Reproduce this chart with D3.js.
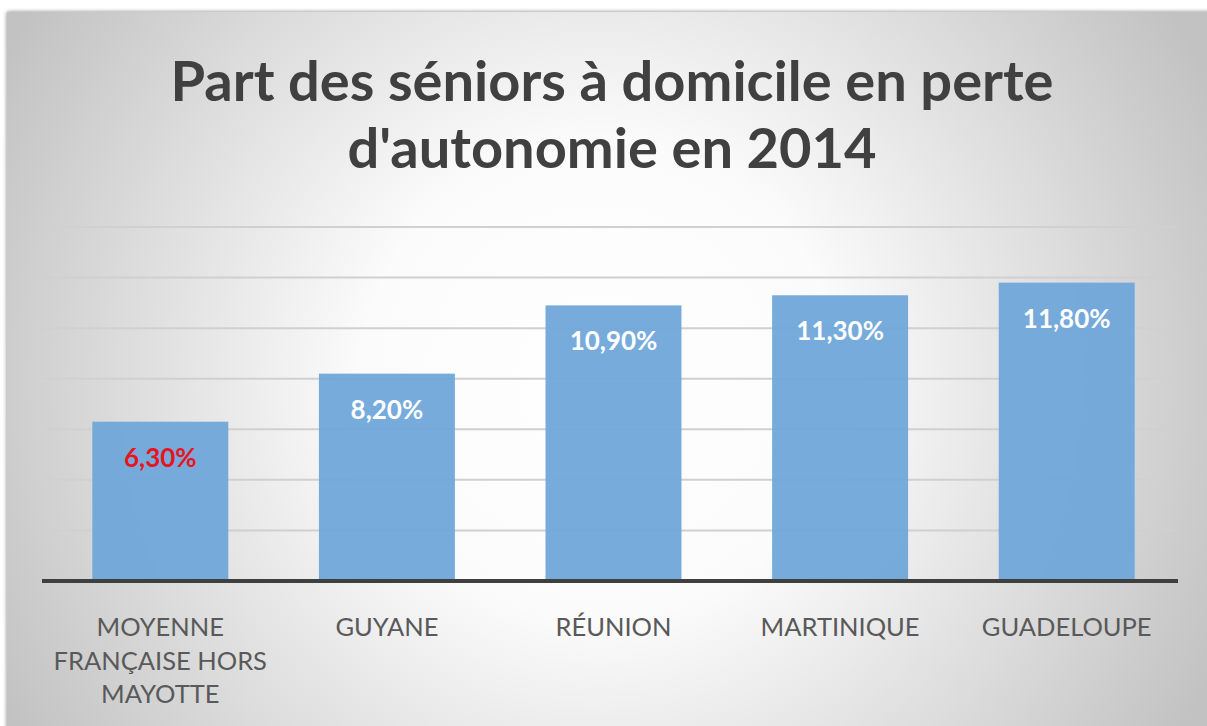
<!DOCTYPE html>
<html>
<head>
<meta charset="utf-8">
<script src="https://cdn.jsdelivr.net/npm/d3@7"></script>
<style>
  body { margin: 0; background: #fff; }
  svg { display: block; }
</style>
</head>
<body>
<div id="chart"></div>
<script>
// data
const categories = ["MOYENNE FRANÇAISE HORS MAYOTTE", "GUYANE", "RÉUNION", "MARTINIQUE", "GUADELOUPE"];
const categoryLines = [["MOYENNE", "FRANÇAISE HORS", "MAYOTTE"], ["GUYANE"], ["RÉUNION"], ["MARTINIQUE"], ["GUADELOUPE"]];
const values = [6.3, 8.2, 10.9, 11.3, 11.8];
const valueLabels = ["6,30%", "8,20%", "10,90%", "11,30%", "11,80%"];
const gridTicks = [0, 2, 4, 6, 8, 10, 12, 14];
const titleLines = ["Part des séniors à domicile en perte", "d'autonomie en 2014"];

const W = 1207, H = 726;
const font = "Lato, 'Open Sans', sans-serif";

const svg = d3.select("#chart").append("svg")
    .attr("width", W)
    .attr("height", H);

// background gradient
const defs = svg.append("defs");
const grad = defs.append("radialGradient")
    .attr("id", "bg")
    .attr("gradientUnits", "userSpaceOnUse")
    .attr("cx", 600).attr("cy", 380).attr("r", 680);
grad.append("stop").attr("offset", "0%").attr("stop-color", "#ffffff");
grad.append("stop").attr("offset", "35%").attr("stop-color", "#fbfbfb");
grad.append("stop").attr("offset", "100%").attr("stop-color", "#c2c2c2");

const shadow = defs.append("filter").attr("id", "sh").attr("x", "-5%").attr("y", "-5%").attr("width", "110%").attr("height", "110%");
shadow.append("feGaussianBlur").attr("in", "SourceAlpha").attr("stdDeviation", 2);
shadow.append("feComponentTransfer").append("feFuncA").attr("type", "linear").attr("slope", 0.5);
const merge = shadow.append("feMerge");
merge.append("feMergeNode");
merge.append("feMergeNode").attr("in", "SourceGraphic");

svg.append("rect")
    .attr("x", 7).attr("y", 12)
    .attr("width", W + 10).attr("height", H + 10)
    .attr("fill", "url(#bg)")
    .attr("filter", "url(#sh)");

// scales
const x = d3.scaleBand()
    .domain(categories)
    .range([47, 1180])
    .paddingInner(0.4)
    .paddingOuter(0.2);

const y = d3.scaleLinear()
    .domain([0, 14])
    .range([581, 227]);

const gridLeft = 42, gridRight = 1178;

// gridlines
svg.append("g")
    .selectAll("line")
    .data(gridTicks.filter(d => d > 0))
    .join("line")
    .attr("x1", gridLeft).attr("x2", gridRight)
    .attr("y1", d => y(d)).attr("y2", d => y(d))
    .attr("stroke", "#d0d0d0")
    .attr("stroke-width", 2);

// bars
svg.append("g")
    .selectAll("rect")
    .data(values)
    .join("rect")
    .attr("x", (d, i) => x(categories[i]))
    .attr("y", d => y(d))
    .attr("width", x.bandwidth())
    .attr("height", d => y(0) - y(d))
    .attr("fill", "#6fa6da")
    .attr("fill-opacity", 0.95);

// baseline
svg.append("line")
    .attr("x1", gridLeft).attr("x2", gridRight)
    .attr("y1", y(0)).attr("y2", y(0))
    .attr("stroke", "#3f3f3f")
    .attr("stroke-width", 4);

// value labels
svg.append("g")
    .selectAll("text")
    .data(values)
    .join("text")
    .attr("x", (d, i) => x(categories[i]) + x.bandwidth() / 2)
    .attr("y", d => y(d) + 45)
    .attr("text-anchor", "middle")
    .attr("font-family", font)
    .attr("font-weight", 700)
    .attr("font-size", 26)
    .attr("fill", (d, i) => i === 0 ? "#e8141e" : "#ffffff")
    .text((d, i) => valueLabels[i]);

// category labels
const catG = svg.append("g")
    .selectAll("text")
    .data(categoryLines)
    .join("text")
    .attr("text-anchor", "middle")
    .attr("font-family", font)
    .attr("font-size", 25.5)
    .attr("fill", "#595959");
catG.each(function(lines, i) {
    const cx = x(categories[i]) + x.bandwidth() / 2;
    d3.select(this).selectAll("tspan")
        .data(lines)
        .join("tspan")
        .attr("x", cx)
        .attr("y", (d, j) => 636 + j * 33.5)
        .text(d => d);
});

// title
svg.append("g")
    .selectAll("text")
    .data(titleLines)
    .join("text")
    .attr("x", 612)
    .attr("y", (d, i) => 101 + i * 67)
    .attr("text-anchor", "middle")
    .attr("font-family", font)
    .attr("font-weight", 700)
    .attr("font-size", 56)
    .attr("fill", "#404040")
    .text(d => d);
</script>
</body>
</html>
